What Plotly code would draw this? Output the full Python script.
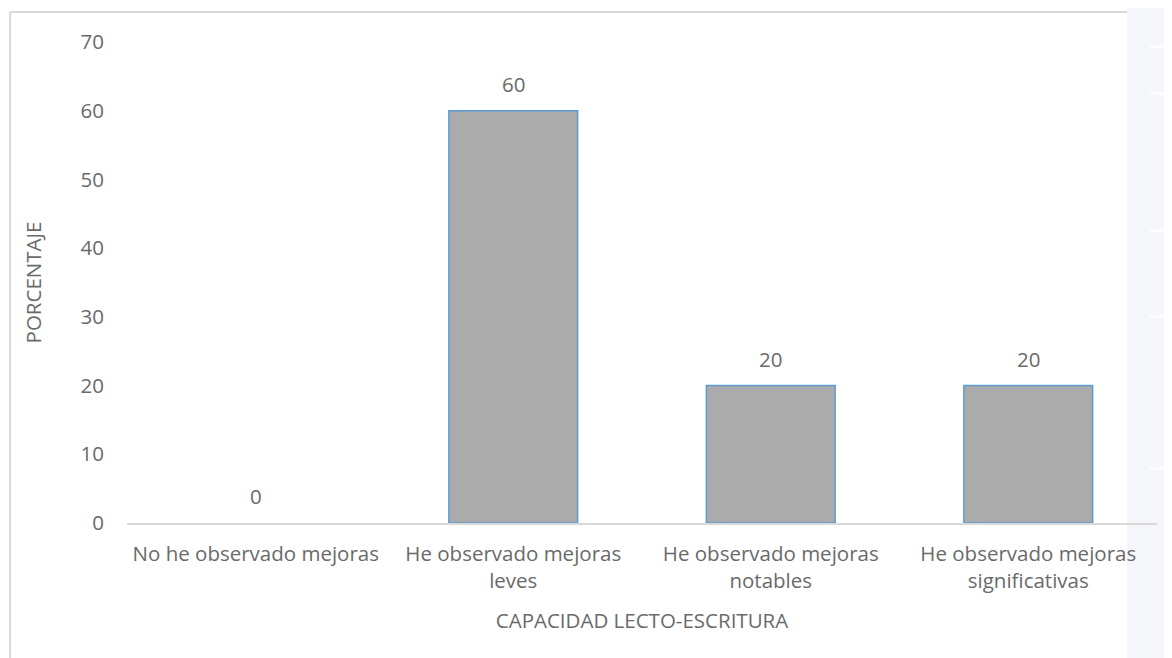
import plotly.graph_objects as go

categories = ["No he observado mejoras", "He observado mejoras<br>leves",
              "He observado mejoras<br>notables", "He observado mejoras<br>significativas"]
values = [0, 60, 20, 20]
y_ticks = [0, 10, 20, 30, 40, 50, 60, 70]

OFF = 8  # page body margin
W, H = 1172 - OFF, 658 - OFF
L, R, T, B = 127 - OFF, 15, 42 - OFF, 135
pw, ph = W - L - R, H - T - B

def px(x):
    return (x - OFF - L) / pw

def py(y):
    return (H - B - (y - OFF)) / ph

font = "Open Sans, Segoe UI, sans-serif"
txt = "#6a6a6a"
FS = 20.5

fig = go.Figure(go.Bar(
    x=categories, y=values,
    marker=dict(color="#ababab",
                line=dict(color="#5b9bd5", width=[0 if v == 0 else 1.5 for v in values])),
    width=0.5,
))

for c, v in zip(categories, values):
    fig.add_annotation(x=c, y=v, text=str(v), showarrow=False, yanchor="bottom",
                       yshift=11, font=dict(size=FS, color=txt, family=font))

shapes = [
    dict(type="rect", xref="paper", yref="paper", x0=px(1127), x1=px(1180), y0=py(670), y1=py(0),
         fillcolor="#f4f6f9", line=dict(width=0), layer="below"),
    dict(type="line", xref="paper", yref="paper", x0=px(10), x1=px(10), y0=py(12), y1=py(670),
         line=dict(color="#d9d9d9", width=2)),
    dict(type="line", xref="paper", yref="paper", x0=px(10), x1=px(1127), y0=py(12), y1=py(12),
         line=dict(color="#d9d9d9", width=2)),
]
for yy in [48, 95, 232, 318, 470]:
    shapes.append(dict(type="rect", xref="paper", yref="paper", x0=px(1150), x1=px(1180),
                       y0=py(yy), y1=py(yy - 3), fillcolor="#fbfcfd", line=dict(width=0), layer="below"))

fig.update_layout(
    width=W, height=H,
    margin=dict(l=L, r=R, t=T, b=B),
    paper_bgcolor="white", plot_bgcolor="rgba(0,0,0,0)",
    showlegend=False,
    font=dict(family=font, size=FS, color=txt),
    shapes=shapes,
    xaxis=dict(
        showgrid=False, showline=True, linecolor="#d9d9d9", linewidth=1.5,
        tickfont=dict(size=FS, color=txt), ticklabelstandoff=12,
        title=dict(text="CAPACIDAD LECTO-ESCRITURA", font=dict(size=FS, color=txt), standoff=21),
    ),
    yaxis=dict(
        range=[0, 70], tickvals=y_ticks, showgrid=False, zeroline=False, showline=False,
        tickfont=dict(size=FS, color=txt), ticklabelstandoff=22,
        title=dict(text="PORCENTAJE", font=dict(size=FS, color=txt), standoff=33),
    ),
)

fig.write_html("out.html")
